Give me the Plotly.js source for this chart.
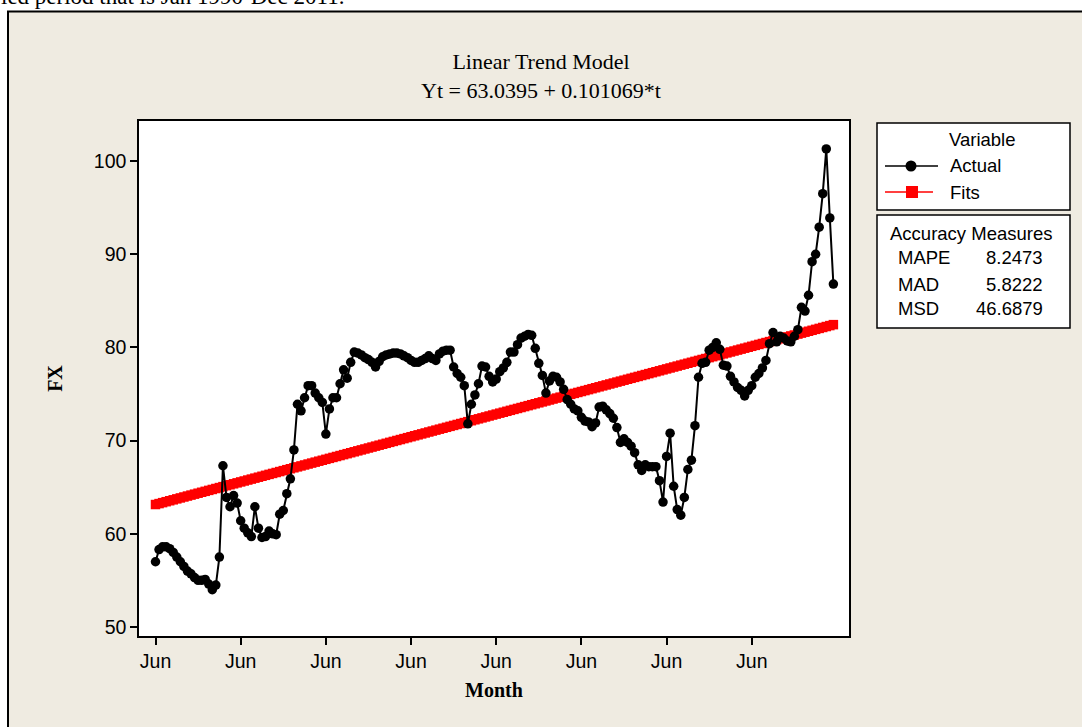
<!DOCTYPE html>
<html>
<head>
<meta charset="utf-8">
<script src="https://cdn.plot.ly/plotly-3.0.1.min.js"></script>
<style>
html,body{margin:0;padding:0;background:#ffffff;}
#chart{width:1082px;height:727px;}
</style>
</head>
<body>
<div id="chart"></div>
<script>
// ---- Data ----
const actualFX = [
  57.0, 58.3, 58.6, 58.6, 58.4, 58.0, 57.5, 57.0, 56.5, 56.0,
  55.7, 55.3, 55.0, 55.0, 55.1, 54.6, 54.0, 54.5, 57.5, 67.3,
  63.9, 62.9, 64.1, 63.3, 61.4, 60.6, 60.1, 59.7, 62.9, 60.6,
  59.6, 59.7, 60.3, 60.0, 59.9, 62.1, 62.5, 64.3, 65.9, 69.0,
  73.9, 73.2, 74.6, 75.9, 75.9, 75.1, 74.6, 74.1, 70.7, 73.4,
  74.6, 74.6, 76.1, 77.6, 76.7, 78.4, 79.5, 79.4, 79.2, 78.9,
  78.7, 78.4, 77.9, 78.5, 79.0, 79.2, 79.3, 79.4, 79.4, 79.3,
  79.1, 78.9, 78.6, 78.4, 78.4, 78.6, 78.8, 79.1, 78.8, 78.6,
  79.3, 79.6, 79.7, 79.7, 77.9, 77.2, 76.8, 75.9, 71.8, 73.9,
  74.9, 76.1, 78.0, 77.9, 76.9, 76.3, 76.6, 77.4, 77.8, 78.4,
  79.5, 79.5, 80.3, 81.0, 81.2, 81.4, 81.3, 79.9, 78.3, 77.0,
  75.1, 76.4, 76.9, 76.8, 76.3, 75.5, 74.4, 73.9, 73.4, 73.2,
  72.5, 72.1, 72.0, 71.5, 71.9, 73.6, 73.7, 73.3, 72.9, 72.4,
  71.4, 69.8, 70.2, 69.8, 69.4, 68.7, 67.4, 66.8, 67.4, 67.2,
  67.2, 67.2, 65.7, 63.4, 68.3, 70.8, 65.1, 62.6, 62.0, 63.9,
  66.9, 67.9, 71.6, 76.8, 78.3, 78.4, 79.7, 80.0, 80.5, 79.8,
  78.1, 78.0, 76.9, 76.3, 75.7, 75.4, 74.8, 75.4, 75.9, 76.8,
  77.2, 77.8, 78.6, 80.4, 81.6, 80.6, 81.2, 81.0, 80.7, 80.6,
  81.2, 81.9, 84.3, 83.9, 85.6, 89.2, 90.0, 92.9, 96.5, 101.3,
  93.9, 86.8
];
// Linear trend model shown in the chart title
const fitIntercept = 63.0395;
const fitSlope = 0.101069;

const monthTickIndex = [1, 25, 49, 73, 97, 121, 145, 169];
const monthTickLabels = ['Jun', 'Jun', 'Jun', 'Jun', 'Jun', 'Jun', 'Jun', 'Jun'];
const yTickValues = [50, 60, 70, 80, 90, 100];

const seriesNames = ['Actual', 'Fits'];
const accuracyNames = ['MAPE', 'MAD', 'MSD'];
const accuracyValues = ['8.2473', '5.8222', '46.6879'];

// ---- Build traces ----
const tIndex = actualFX.map((v, i) => i + 1);
const fitsFX = tIndex.map(t => fitIntercept + fitSlope * t);

const fitsTrace = {
  x: tIndex, y: fitsFX, name: seriesNames[1], type: 'scatter', mode: 'lines+markers',
  line: {color: '#ff0000', width: 1.5},
  marker: {symbol: 'square', size: 9.5, color: '#ff0000'},
  showlegend: false, hoverinfo: 'x+y'
};
const actualTrace = {
  x: tIndex, y: actualFX, name: seriesNames[0], type: 'scatter', mode: 'lines+markers',
  line: {color: '#000000', width: 2},
  marker: {symbol: 'circle', size: 9.5, color: '#000000'},
  showlegend: false, hoverinfo: 'x+y'
};

// ---- Layout helpers (pixel -> paper) ----
const PL = 139, PR = 849, PT = 121, PB = 636;
const W = 1082, H = 727;
const px = v => (v - PL) / (PR - PL);
const py = v => (PB - v) / (PB - PT);

const sansFont = 'Liberation Sans, Arial, sans-serif';
const serifFont = 'Liberation Serif, Times New Roman, serif';

const shapes = [
  // white strips outside the framed graph
  {type: 'rect', xref: 'paper', yref: 'paper', x0: px(-5), x1: px(W + 5), y0: py(11), y1: py(-5),
   fillcolor: '#ffffff', line: {width: 0}, layer: 'below'},
  {type: 'rect', xref: 'paper', yref: 'paper', x0: px(-5), x1: px(8), y0: py(H + 5), y1: py(-5),
   fillcolor: '#ffffff', line: {width: 0}, layer: 'below'},
  // frame of the graph window
  {type: 'rect', xref: 'paper', yref: 'paper', x0: px(8), x1: px(W + 10), y0: py(H + 10), y1: py(11.5),
   fillcolor: 'rgba(0,0,0,0)', line: {color: '#000000', width: 2}, layer: 'below'},
  // legend boxes
  {type: 'rect', xref: 'paper', yref: 'paper', x0: px(877), x1: px(1070), y0: py(210), y1: py(123),
   fillcolor: '#ffffff', line: {color: '#000000', width: 1.5}, layer: 'below'},
  {type: 'rect', xref: 'paper', yref: 'paper', x0: px(877), x1: px(1070), y0: py(328), y1: py(215),
   fillcolor: '#ffffff', line: {color: '#000000', width: 1.5}, layer: 'below'},
  // legend samples
  {type: 'line', xref: 'paper', yref: 'paper', x0: px(885), x1: px(938), y0: py(166), y1: py(166),
   line: {color: '#000000', width: 1.5}},
  {type: 'circle', xref: 'paper', yref: 'paper', xsizemode: 'pixel', ysizemode: 'pixel',
   xanchor: px(911), yanchor: py(166), x0: -5.5, x1: 5.5, y0: -5.5, y1: 5.5,
   fillcolor: '#000000', line: {width: 0}},
  {type: 'line', xref: 'paper', yref: 'paper', x0: px(885), x1: px(933), y0: py(192), y1: py(192),
   line: {color: '#ff0000', width: 1.5}},
  {type: 'rect', xref: 'paper', yref: 'paper', xsizemode: 'pixel', ysizemode: 'pixel',
   xanchor: px(912), yanchor: py(192), x0: -6, x1: 6, y0: -6, y1: 6,
   fillcolor: '#ff0000', line: {width: 0}}
];

const legFont = {family: sansFont, size: 18.5, color: '#000000'};
const annotations = [
  {text: 'ied period that is Jan 1990-Dec 2011.', xref: 'paper', yref: 'paper',
   x: px(-1), y: py(11), xanchor: 'left', yanchor: 'bottom', showarrow: false,
   font: {family: serifFont, size: 23, color: '#000000'}},
  {text: 'Variable', xref: 'paper', yref: 'paper', x: px(982), y: py(139),
   xanchor: 'center', yanchor: 'middle', showarrow: false, font: legFont},
  {text: seriesNames[0], xref: 'paper', yref: 'paper', x: px(948), y: py(166),
   xanchor: 'left', yanchor: 'middle', showarrow: false, font: legFont},
  {text: seriesNames[1], xref: 'paper', yref: 'paper', x: px(948), y: py(192),
   xanchor: 'left', yanchor: 'middle', showarrow: false, font: legFont},
  {text: 'Accuracy Measures', xref: 'paper', yref: 'paper', x: px(971), y: py(233),
   xanchor: 'center', yanchor: 'middle', showarrow: false, font: legFont}
];
const rowY = [257, 284, 308];
accuracyNames.forEach((nm, i) => {
  annotations.push({text: nm, xref: 'paper', yref: 'paper', x: px(896), y: py(rowY[i]),
    xanchor: 'left', yanchor: 'middle', showarrow: false, font: legFont});
  annotations.push({text: accuracyValues[i], xref: 'paper', yref: 'paper', x: px(1045), y: py(rowY[i]),
    xanchor: 'right', yanchor: 'middle', showarrow: false, font: legFont});
});

const layout = {
  width: W, height: H,
  paper_bgcolor: '#efebe1',
  plot_bgcolor: '#ffffff',
  margin: {l: PL, r: W - PR, t: PT, b: H - PB, pad: 0},
  showlegend: false,
  title: {
    text: 'Linear Trend Model<br>Yt = 63.0395 + 0.101069*t',
    font: {family: serifFont, size: 22, color: '#000000'},
    x: 0.5, xref: 'container', xanchor: 'center',
    y: 1 - 69 / H, yref: 'container', yanchor: 'top'
  },
  xaxis: {
    range: [-3.65, 196.4], tickmode: 'array', tickvals: monthTickIndex, ticktext: monthTickLabels,
    ticks: 'outside', ticklen: 7, tickwidth: 1.5, tickcolor: '#000000',
    showgrid: false, zeroline: false, showline: true, mirror: true, linecolor: '#000000', linewidth: 1.5,
    tickfont: {family: sansFont, size: 19.5, color: '#000000'},
    title: {text: '<b>Month</b>', font: {family: serifFont, size: 20, color: '#000000'}, standoff: 12}
  },
  yaxis: {
    range: [49.03, 104.3], tickmode: 'array', tickvals: yTickValues,
    ticks: 'outside', ticklen: 7, tickwidth: 1.5, tickcolor: '#000000',
    showgrid: false, zeroline: false, showline: true, mirror: true, linecolor: '#000000', linewidth: 1.5,
    tickfont: {family: sansFont, size: 19.5, color: '#000000'},
    title: {text: '<b>FX</b>', font: {family: serifFont, size: 20, color: '#000000'}, standoff: 26}
  },
  shapes: shapes,
  annotations: annotations
};

Plotly.newPlot('chart', [fitsTrace, actualTrace], layout, {displayModeBar: false, responsive: false});
</script>
</body>
</html>
